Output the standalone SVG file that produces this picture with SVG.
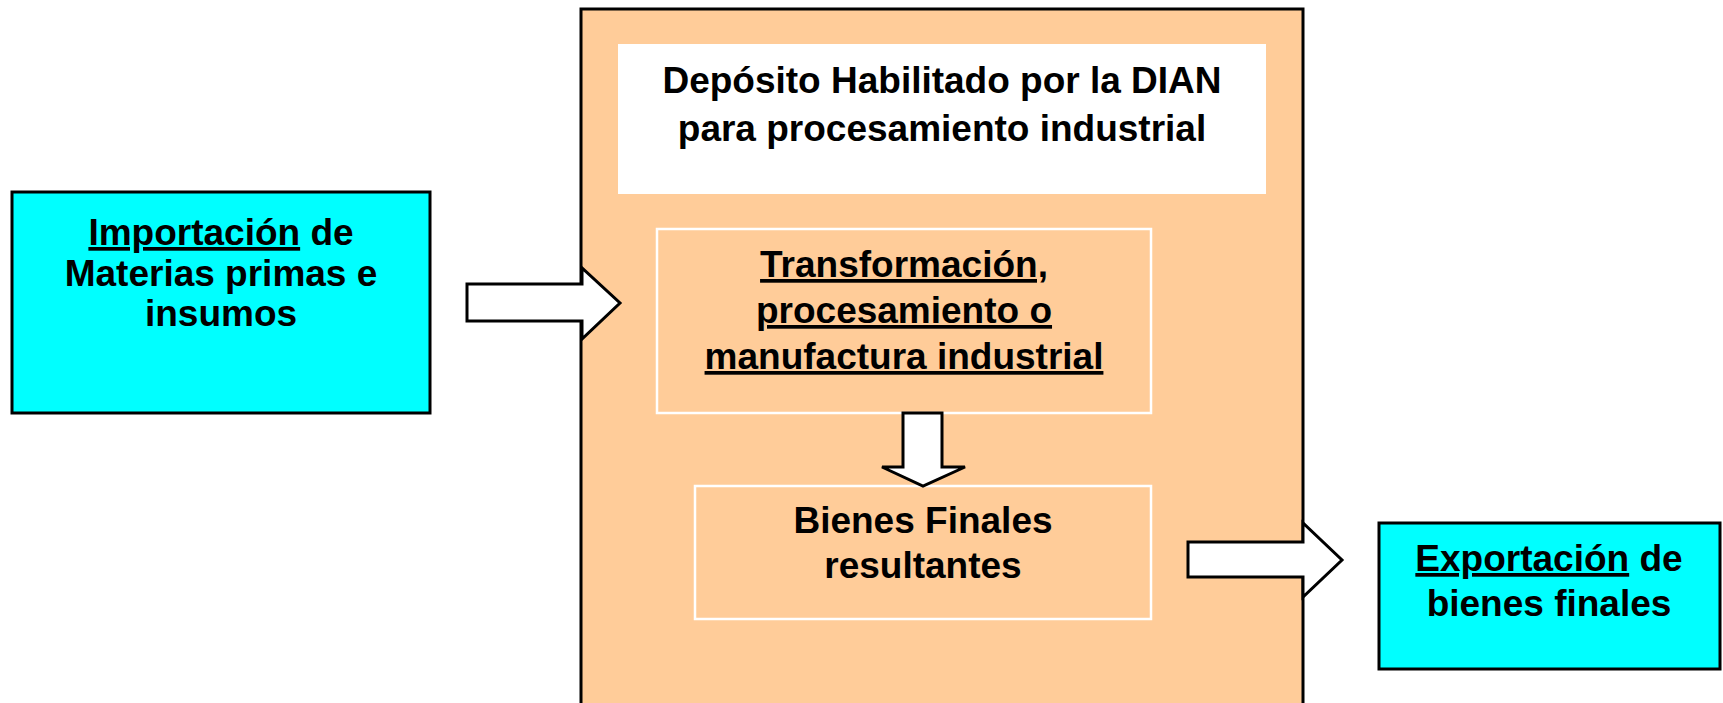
<svg xmlns="http://www.w3.org/2000/svg" width="1723" height="703" viewBox="0 0 1723 703">
<style>
.t{font-family:"Liberation Sans",Arial,sans-serif;font-weight:bold;font-size:37px;fill:#000;text-anchor:middle}
.u{text-decoration:underline}
.cyan{fill:#00FFFF;stroke:#000;stroke-width:3}
.inner{fill:none;stroke:#FFFFFF;stroke-width:2.5}
.arrow{fill:#FFFFFF;stroke:#000;stroke-width:3;stroke-linejoin:miter}
</style>
<rect width="1723" height="703" fill="#FFFFFF"/>
<g id="deposito">
<rect x="581" y="9" width="722" height="710" fill="#FFCC99" stroke="#000" stroke-width="3"/>
</g>
<g id="titulo">
<rect x="618" y="44" width="648" height="150" fill="#FFFFFF"/>
<text class="t" x="942" y="93">Depósito Habilitado por la DIAN</text>
<text class="t" x="942" y="141">para procesamiento industrial</text>
</g>
<g id="importacion">
<rect class="cyan" x="12" y="192" width="418" height="221"/>
<text class="t" x="221" y="245"><tspan class="u">Importación</tspan> de</text>
<text class="t" x="221" y="286">Materias primas e</text>
<text class="t" x="221" y="326">insumos</text>
</g>
<g id="transformacion">
<rect class="inner" x="657" y="229" width="494" height="184"/>
<text class="t u" x="904" y="277">Transformación,</text>
<text class="t u" x="904" y="323">procesamiento o</text>
<text class="t u" x="904" y="369">manufactura industrial</text>
</g>
<g id="bienes">
<rect class="inner" x="695" y="486" width="456" height="133"/>
<text class="t" x="923" y="533">Bienes Finales</text>
<text class="t" x="923" y="578">resultantes</text>
</g>
<g id="exportacion">
<rect class="cyan" x="1379" y="523" width="341" height="146"/>
<text class="t" x="1549" y="571"><tspan class="u">Exportación</tspan> de</text>
<text class="t" x="1549" y="616">bienes finales</text>
</g>
<g id="connectors">
<polygon class="arrow" points="467,284 582,284 582,268 620,303 582,339 582,321 467,321"/>
<polygon class="arrow" points="903,413 942,413 942,467 965,467 923,486 882,467 903,467"/>
<polygon class="arrow" points="1188,542 1303,542 1303,523 1342,560 1303,597 1303,577 1188,577"/>
</g>
</svg>
